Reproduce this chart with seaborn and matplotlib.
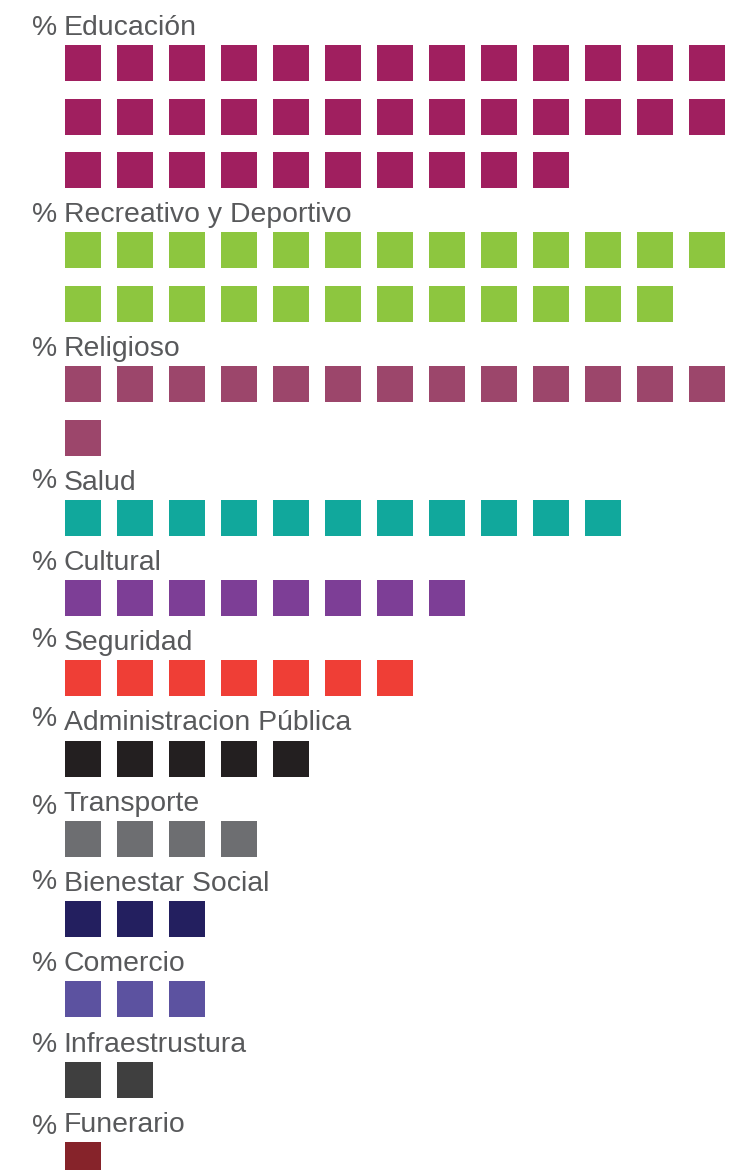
"""Waffle-style chart of equipment share by category."""

import matplotlib

matplotlib.use("Agg")
import matplotlib.pyplot as plt
import numpy as np
import pandas as pd
import seaborn as sns


CATEGORIES = [
    "Educación",
    "Recreativo y Deportivo",
    "Religioso",
    "Salud",
    "Cultural",
    "Seguridad",
    "Administracion Pública",
    "Transporte",
    "Bienestar Social",
    "Comercio",
    "Infraestrustura",
    "Funerario",
]
COUNTS = [36, 25, 14, 11, 8, 7, 5, 4, 3, 3, 2, 1]
COLORS = [
    "#A01F5F",
    "#8DC63F",
    "#9C466B",
    "#11A89C",
    "#7D3E96",
    "#EF3E36",
    "#231F20",
    "#6D6E71",
    "#231F5F",
    "#5C52A0",
    "#3F3F3F",
    "#86232A",
]
PCT_DY = [0, 0, 0, -2, 0, -3, -5, 3, -2, 0, 0, 2]  # small nudges of the % sign, px

PER_ROW = 13
GROUP_GAP = 1.5   # rows between the last row of a group and the next first row
TEXT_COLOR = "#58595B"

# layout in pixels (figure is 731 x 1170 at dpi 100)
W, H, DPI = 731, 1170, 100
COL0_PX, COL_STEP_PX = 83, 52
ROW0_PX, ROW_STEP_PX = 63, 53.5
SQ_PX = 36

# build one record per square
rows = []
label_rows = []
y = 0.0
for cat, n in zip(CATEGORIES, COUNTS):
    label_rows.append(y)
    n_lines = int(np.ceil(n / PER_ROW))
    for i in range(n):
        rows.append({"category": cat, "col": i % PER_ROW, "row": y + i // PER_ROW})
    y += (n_lines - 1) + GROUP_GAP
df = pd.DataFrame(rows)

sns.set_theme(style="white")
plt.rcParams["font.family"] = ["Liberation Sans", "DejaVu Sans"]

fig = plt.figure(figsize=(W / DPI, H / DPI), dpi=DPI)
ax = fig.add_axes([0, 0, 1, 1])

sq_pt = SQ_PX * 72 / DPI
sns.scatterplot(
    data=df,
    x="col",
    y="row",
    hue="category",
    hue_order=CATEGORIES,
    palette=dict(zip(CATEGORIES, COLORS)),
    marker="s",
    s=sq_pt ** 2,
    linewidth=0,
    legend=False,
    ax=ax,
)

ax.set_xlim(-COL0_PX / COL_STEP_PX, (W - COL0_PX) / COL_STEP_PX)
ax.set_ylim((H - ROW0_PX) / ROW_STEP_PX, -ROW0_PX / ROW_STEP_PX)
ax.axis("off")

px_x = 1 / COL_STEP_PX
px_y = 1 / ROW_STEP_PX
left_edge = -SQ_PX / 2 * px_x
for cat, ly, dy in zip(CATEGORIES, label_rows, PCT_DY):
    base = ly - 28 * px_y
    ax.text(left_edge - 1.5 * px_x, base, cat, fontsize=20.4, color=TEXT_COLOR,
            ha="left", va="baseline")
    ax.text(left_edge - 33 * px_x, base + dy * px_y, "%", fontsize=20.4, color=TEXT_COLOR,
            ha="left", va="baseline")

fig.savefig("out.png", dpi=DPI)
plt.close(fig)
